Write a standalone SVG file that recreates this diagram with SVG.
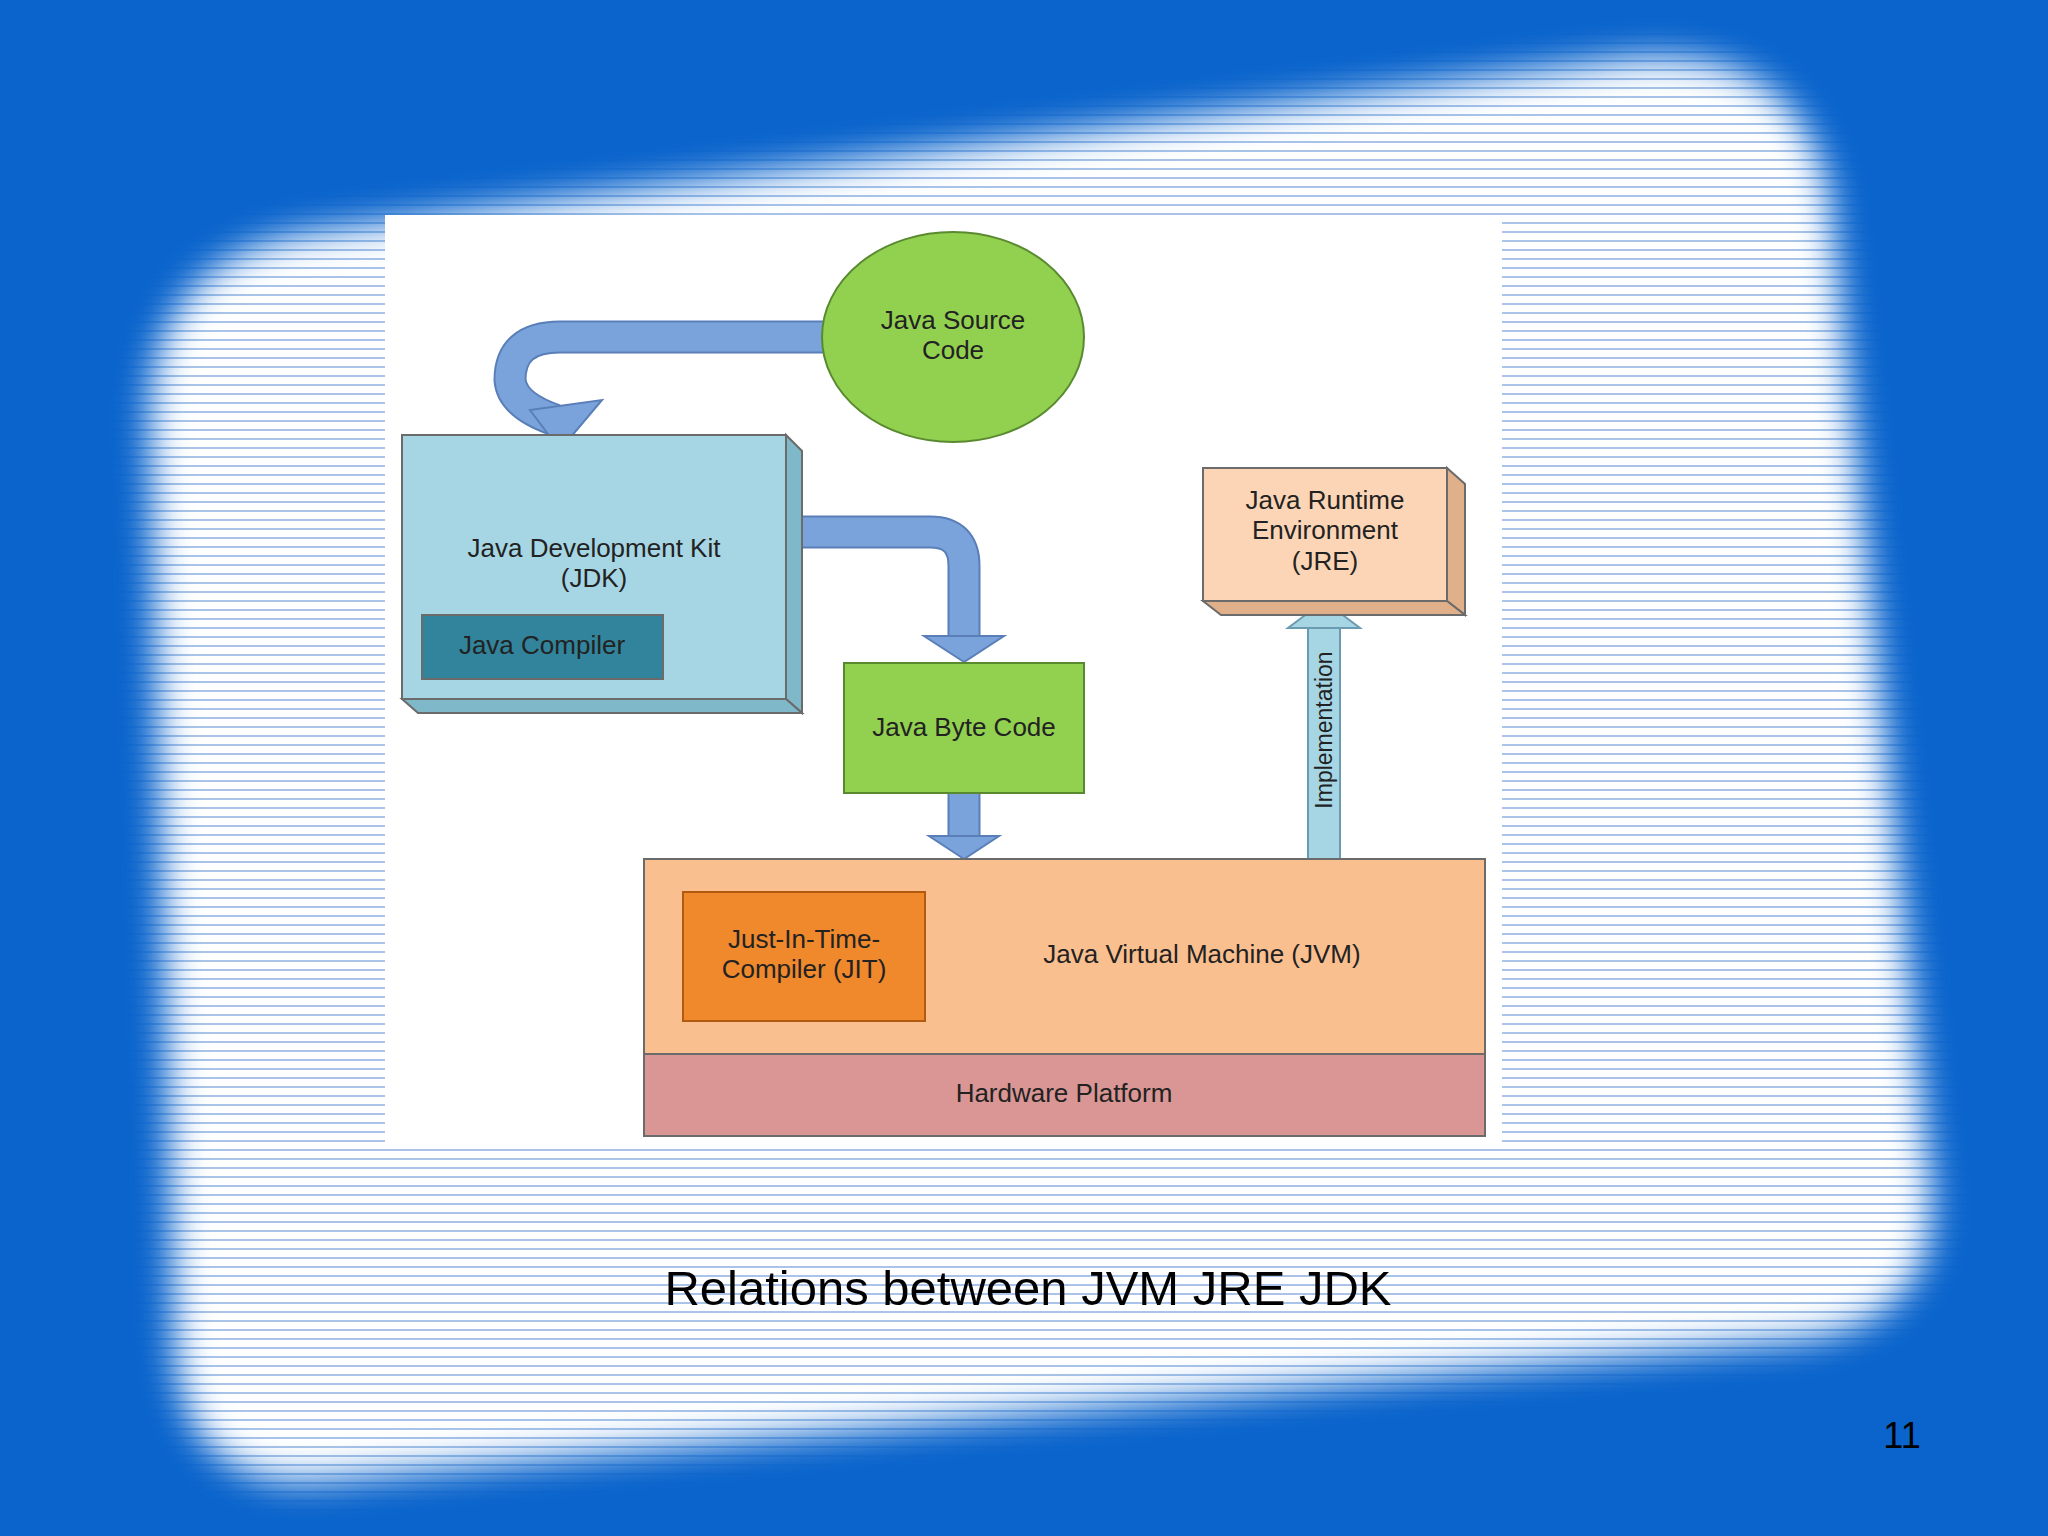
<svg xmlns="http://www.w3.org/2000/svg" width="2048" height="1536" viewBox="0 0 2048 1536">
<defs>
<pattern id="stripes" width="12" height="9" patternUnits="userSpaceOnUse">
<rect width="12" height="9" fill="#ffffff"/>
<rect y="6" width="12" height="2" fill="#a9c4e8"/>
</pattern>
<filter id="soft" x="-10%" y="-10%" width="120%" height="120%"><feGaussianBlur stdDeviation="18"/></filter>
<mask id="blobmask" maskUnits="userSpaceOnUse" x="0" y="0" width="2048" height="1536">
<path d="M330 230 L1620 60 Q1800 40 1830 200 L1930 1180 Q1945 1320 1800 1340 L330 1480 Q180 1495 175 1340 L150 420 Q150 250 330 230 Z" fill="#ffffff" filter="url(#soft)"/>
</mask>
<style>
.t{font-family:"Liberation Sans",Arial,sans-serif;font-size:26px;fill:#222;text-anchor:middle}
.arr{fill:none;stroke:#7aa3dc;stroke-width:29}
.arrb{fill:none;stroke:#5a7fb8;stroke-width:33}
.head{fill:#7aa3dc;stroke:#5a7fb8;stroke-width:2}
.box{stroke:#6b6b6b;stroke-width:2}
</style>
</defs>
<rect width="2048" height="1536" fill="#0a64cc"/>
<rect width="2048" height="1536" fill="url(#stripes)" mask="url(#blobmask)"/>
<rect x="385" y="215" width="1117" height="934" fill="#ffffff"/>
<g id="connectors">
<path class="arrb" d="M826 337 H560 Q510 337 510 380 Q512 405 555 420"/>
<path class="arr" d="M826 337 H560 Q510 337 510 380 Q512 405 555 420"/>
<polygon class="head" points="560,450 530,410 602,400"/>
<path class="arrb" d="M803 532 H930 Q964 532 964 566 V636"/>
<path class="arr" d="M803 532 H930 Q964 532 964 566 V636"/>
<polygon class="head" points="964,662 924,636 1004,636"/>
<path class="arrb" d="M964 793 V836"/>
<path class="arr" d="M964 793 V836"/>
<polygon class="head" points="964,859 929,836 999,836"/>
<g id="implementation">
<rect x="1308" y="628" width="32" height="231" fill="#a6d6e4" stroke="#6b9bb0" stroke-width="2"/>
<polygon points="1324,601 1288,628 1360,628" fill="#a6d6e4" stroke="#6b9bb0" stroke-width="2"/>
<text class="t" transform="translate(1332,730) rotate(-90)" style="font-size:23px">Implementation</text>
</g>
</g>
<g id="source">
<ellipse cx="953" cy="337" rx="131" ry="105" fill="#92d050" stroke="#5a8a30" stroke-width="2"/>
<text class="t" x="953" y="329">Java Source</text>
<text class="t" x="953" y="359">Code</text>
</g>
<g id="jdk">
<polygon class="box" points="786,435 802,451 802,713 786,699" fill="#7fb8c9"/>
<polygon class="box" points="402,699 786,699 802,713 418,713" fill="#7fb8c9"/>
<rect class="box" x="402" y="435" width="384" height="264" fill="#a6d6e4"/>
<text class="t" x="594" y="557">Java Development Kit</text>
<text class="t" x="594" y="587">(JDK)</text>
</g>
<g id="compiler">
<rect class="box" x="422" y="615" width="241" height="64" fill="#31849b" stroke="#1f5a6a"/>
<text class="t" x="542" y="654">Java Compiler</text>
</g>
<g id="bytecode">
<rect x="844" y="663" width="240" height="130" fill="#92d050" stroke="#5a8a30" stroke-width="2"/>
<text class="t" x="964" y="736">Java Byte Code</text>
</g>
<g id="jre">
<polygon class="box" points="1447,468 1465,484 1465,615 1447,601" fill="#e0b08a"/>
<polygon class="box" points="1203,601 1447,601 1465,615 1221,615" fill="#e0b08a"/>
<rect class="box" x="1203" y="468" width="244" height="133" fill="#fbd5b5"/>
<text class="t" x="1325" y="509">Java Runtime</text>
<text class="t" x="1325" y="539">Environment</text>
<text class="t" x="1325" y="570">(JRE)</text>
</g>
<g id="jvm">
<rect class="box" x="644" y="859" width="841" height="195" fill="#fabf8f"/>
<text class="t" x="1202" y="963">Java Virtual Machine (JVM)</text>
</g>
<g id="jit">
<rect x="683" y="892" width="242" height="129" fill="#f0882c" stroke="#b25a10" stroke-width="2"/>
<text class="t" x="804" y="948">Just-In-Time-</text>
<text class="t" x="804" y="978">Compiler (JIT)</text>
</g>
<g id="hardware">
<rect class="box" x="644" y="1054" width="841" height="82" fill="#d99694"/>
<text class="t" x="1064" y="1102">Hardware Platform</text>
</g>
<text x="1028" y="1305" style="font-family:'Liberation Sans',Arial,sans-serif;font-size:49px;fill:#000;text-anchor:middle">Relations between JVM JRE JDK</text>
<text x="1902" y="1448" style="font-family:'Liberation Sans',Arial,sans-serif;font-size:36px;fill:#000;text-anchor:middle">11</text>
</svg>
